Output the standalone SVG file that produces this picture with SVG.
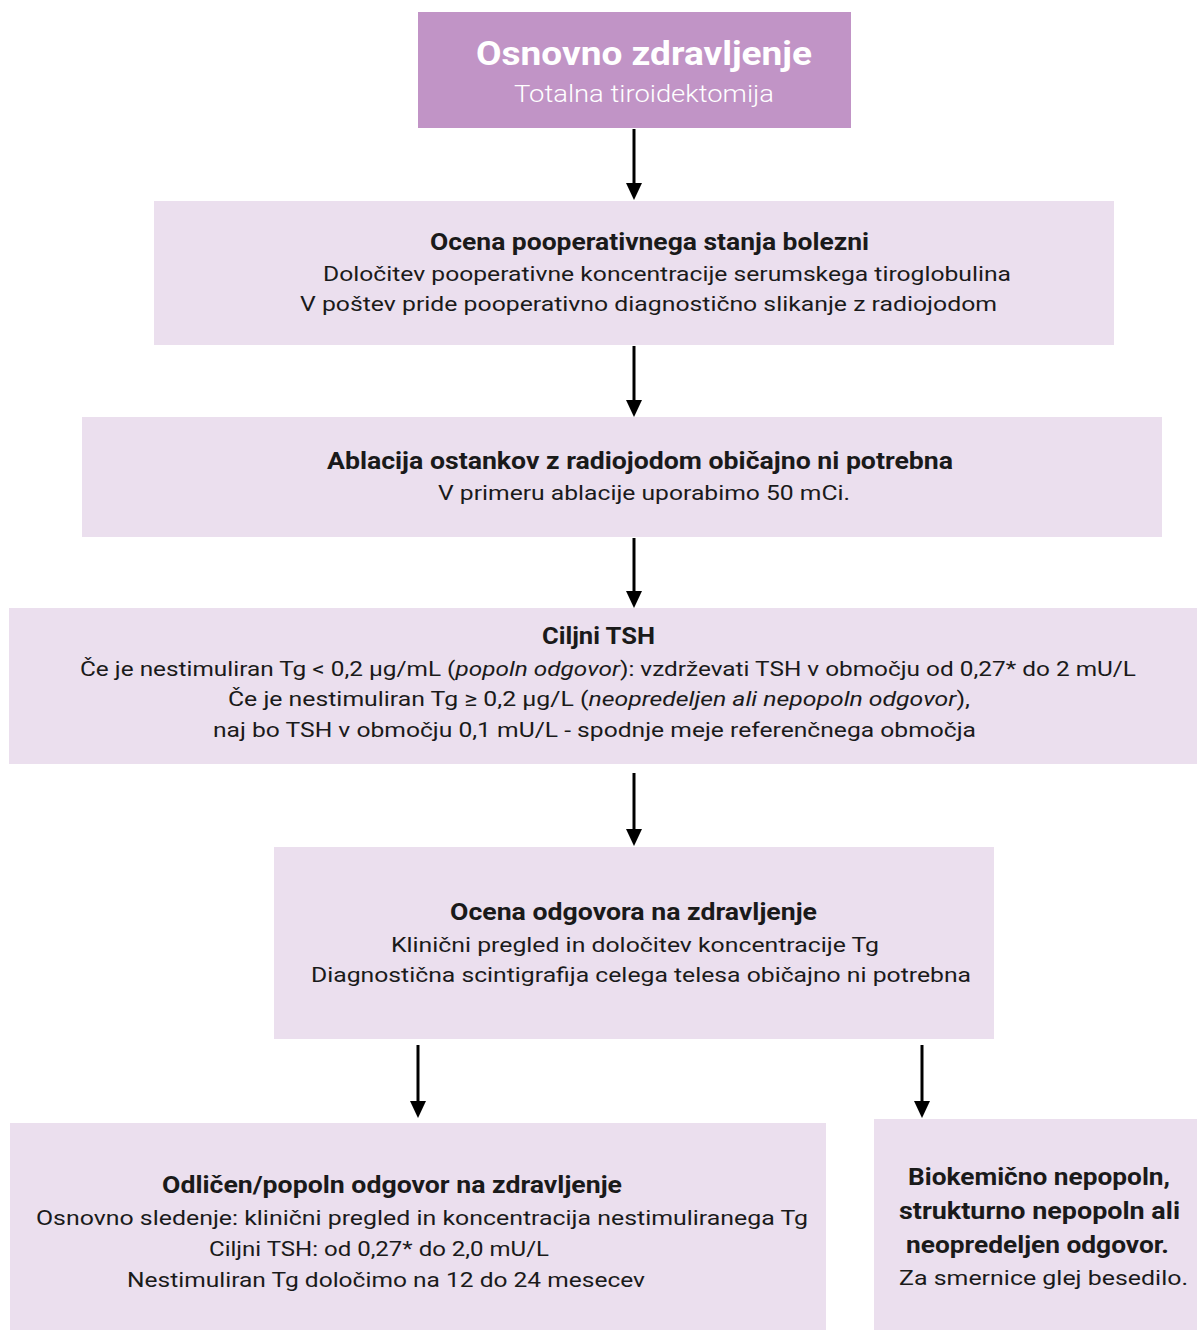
<svg xmlns="http://www.w3.org/2000/svg" width="1198" height="1331" viewBox="0 0 1198 1331">
<defs>
<style>
.main{fill:#C194C6}
.box{fill:#EBDFEE}
text{font-family:Roboto,"Liberation Sans",sans-serif;text-anchor:middle;fill:#1a1a1a}
.b{font-weight:bold;font-size:24px}
.n{font-size:21px}
.w{fill:#fff}
.i{font-style:italic}
.c{stroke:#000;stroke-width:3;fill:none}
.h{fill:#000}
</style>
</defs>
<rect width="1198" height="1331" fill="#fff"/>
<g id="connectors">
<line class="c" x1="634" y1="129" x2="634" y2="184"/>
<line class="c" x1="634" y1="346" x2="634" y2="401"/>
<line class="c" x1="634" y1="538" x2="634" y2="592"/>
<line class="c" x1="634" y1="773" x2="634" y2="830"/>
<line class="c" x1="418" y1="1045" x2="418" y2="1102"/>
<line class="c" x1="922" y1="1045" x2="922" y2="1102"/>
<path class="h" d="M626,183 L642,183 L634,200 Z"/>
<path class="h" d="M626,400 L642,400 L634,417 Z"/>
<path class="h" d="M626,591 L642,591 L634,608 Z"/>
<path class="h" d="M626,829 L642,829 L634,846 Z"/>
<path class="h" d="M410,1101 L426,1101 L418,1118 Z"/>
<path class="h" d="M914,1101 L930,1101 L922,1118 Z"/>
</g>
<g id="n1">
<rect class="main" x="418" y="12" width="433" height="116"/>
<text class="w" x="644" y="65" font-size="34" font-weight="bold" textLength="336" lengthAdjust="spacingAndGlyphs">Osnovno zdravljenje</text>
<text class="w" x="644" y="102" font-size="24" font-weight="300" textLength="260" lengthAdjust="spacingAndGlyphs">Totalna tiroidektomija</text>
</g>
<g id="n2">
<rect class="box" x="154" y="201" width="960" height="144"/>
<text class="b" x="649.5" y="250" textLength="439" lengthAdjust="spacingAndGlyphs">Ocena pooperativnega stanja bolezni</text>
<text class="n" x="667" y="281" textLength="688" lengthAdjust="spacingAndGlyphs">Določitev pooperativne koncentracije serumskega tiroglobulina</text>
<text class="n" x="648.5" y="311" textLength="697" lengthAdjust="spacingAndGlyphs">V poštev pride pooperativno diagnostično slikanje z radiojodom</text>
</g>
<g id="n3">
<rect class="box" x="82" y="417" width="1080" height="120"/>
<text class="b" x="640" y="469" textLength="626" lengthAdjust="spacingAndGlyphs">Ablacija ostankov z radiojodom običajno ni potrebna</text>
<text class="n" x="644" y="500" textLength="412" lengthAdjust="spacingAndGlyphs">V primeru ablacije uporabimo 50 mCi.</text>
</g>
<g id="n4">
<rect class="box" x="9" y="608" width="1188" height="156"/>
<text class="b" x="598.5" y="644" textLength="113" lengthAdjust="spacingAndGlyphs">Ciljni TSH</text>
<text class="n" x="608" y="676" textLength="1056" lengthAdjust="spacingAndGlyphs">Če je nestimuliran Tg &lt; 0,2 µg/mL (<tspan class="i">popoln odgovor</tspan>): vzdrževati TSH v območju od 0,27* do 2 mU/L</text>
<text class="n" x="599" y="706" textLength="742" lengthAdjust="spacingAndGlyphs">Če je nestimuliran Tg ≥ 0,2 µg/L (<tspan class="i">neopredeljen ali nepopoln odgovor</tspan>),</text>
<text class="n" x="594.5" y="737" textLength="763" lengthAdjust="spacingAndGlyphs">naj bo TSH v območju 0,1 mU/L - spodnje meje referenčnega območja</text>
</g>
<g id="n5">
<rect class="box" x="274" y="847" width="720" height="192"/>
<text class="b" x="633.5" y="920" textLength="367" lengthAdjust="spacingAndGlyphs">Ocena odgovora na zdravljenje</text>
<text class="n" x="635" y="952" textLength="488" lengthAdjust="spacingAndGlyphs">Klinični pregled in določitev koncentracije Tg</text>
<text class="n" x="641" y="982" textLength="660" lengthAdjust="spacingAndGlyphs">Diagnostična scintigrafija celega telesa običajno ni potrebna</text>
</g>
<g id="n6">
<rect class="box" x="10" y="1123" width="816" height="207"/>
<text class="b" x="392" y="1193" textLength="460" lengthAdjust="spacingAndGlyphs">Odličen/popoln odgovor na zdravljenje</text>
<text class="n" x="422" y="1225" textLength="772" lengthAdjust="spacingAndGlyphs">Osnovno sledenje: klinični pregled in koncentracija nestimuliranega Tg</text>
<text class="n" x="379" y="1256" textLength="340" lengthAdjust="spacingAndGlyphs">Ciljni TSH: od 0,27* do 2,0 mU/L</text>
<text class="n" x="386" y="1287" textLength="518" lengthAdjust="spacingAndGlyphs">Nestimuliran Tg določimo na 12 do 24 mesecev</text>
</g>
<g id="n7">
<rect class="box" x="874" y="1119" width="323" height="211"/>
<text class="b" x="1039" y="1185" textLength="262" lengthAdjust="spacingAndGlyphs">Biokemično nepopoln,</text>
<text class="b" x="1039.5" y="1219" textLength="281" lengthAdjust="spacingAndGlyphs">strukturno nepopoln ali</text>
<text class="b" x="1037.5" y="1253" textLength="263" lengthAdjust="spacingAndGlyphs">neopredeljen odgovor.</text>
<text class="n" x="1043.5" y="1285" textLength="289" lengthAdjust="spacingAndGlyphs">Za smernice glej besedilo.</text>
</g>
</svg>
